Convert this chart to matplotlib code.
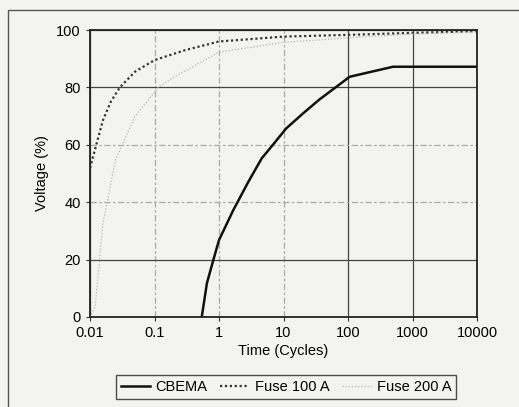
import matplotlib.pyplot as plt
from matplotlib.patches import Rectangle

# Values
cbema_t = [0.54, 0.65, 0.82, 1.0, 1.67, 2.85, 4.6, 6.2, 11.0, 20, 36.6, 66, 106, 500, 10000]
cbema_v = [0, 11.8, 20, 26.8, 37.3, 47.1, 55.3, 58.8, 65.7, 70.9, 75.9, 80.2, 83.7, 87.2, 87.2]

fuse100_t = [0.01, 0.0125, 0.0159, 0.021, 0.029, 0.05, 0.1, 0.3, 1.0, 10, 100, 1000, 10000]
fuse100_v = [51.9, 60, 68.6, 75, 80, 85.5, 89.5, 93, 96, 97.7, 98.3, 99, 99.6]

fuse200_t = [0.01, 0.012, 0.0159, 0.025, 0.05, 0.12, 0.23, 1.0, 10, 170, 1000, 10000]
fuse200_v = [0, 3.5, 32.8, 55, 70, 80.5, 84.3, 92.3, 95.7, 97.6, 98.6, 99.3]

y_ticks = [0, 20, 40, 60, 80, 100]
x_ticks = [0.01, 0.1, 1, 10, 100, 1000, 10000]
x_labels = ["0.01", "0.1", "1", "10", "100", "1000", "10000"]

paper = "#f3f3f1"
plt.rcParams["font.family"] = ["Liberation Sans", "DejaVu Sans"]

fig = plt.figure(figsize=(5.19, 4.07), dpi=100, facecolor=paper)
ax = fig.add_axes([90 / 519, 90 / 407, 387 / 519, 287 / 407], facecolor=paper)

ax.plot(cbema_t, cbema_v, color="#111111", lw=1.8, label="CBEMA")
ax.plot(fuse100_t, fuse100_v, color="#333333", lw=1.6, linestyle=(0, (1, 1.2)), label="Fuse 100 A")
ax.plot(fuse200_t, fuse200_v, color="#b5b5b5", lw=0.9, linestyle=(0, (1, 1.5)), label="Fuse 200 A")

ax.set_xscale("log")
ax.set_xlim(0.01, 10000)
ax.set_ylim(0, 100)
ax.set_xticks(x_ticks)
ax.set_xticklabels(x_labels)
ax.minorticks_off()
ax.set_yticks(y_ticks)
ax.grid(True, color="#444444", lw=0.9)
ax.set_axisbelow(True)

# the scan leaves some gridlines faded and broken
for i in (2, 3):
    g = ax.get_ygridlines()[i]
    g.set_color("#aaaaaa")
    g.set_linestyle((0, (5, 2, 2, 2)))
for i in (1, 2, 3):
    g = ax.get_xgridlines()[i]
    g.set_color("#aaaaaa")
    g.set_linestyle((0, (5, 2, 2, 2)))

for s in ax.spines.values():
    s.set_color("#222222")
    s.set_linewidth(1.3)
ax.tick_params(axis="both", labelsize=10.5, direction="out", length=3, color="#333333")

ax.set_xlabel("Time (Cycles)", fontsize=10.5, labelpad=3)
ax.set_ylabel("Voltage (%)", fontsize=10.5, labelpad=5)

leg = fig.legend(loc="center", bbox_to_anchor=(286 / 519, 1 - 387 / 407), ncol=3,
                 fontsize=10.5, frameon=True, fancybox=False, handlelength=2.0,
                 columnspacing=0.9, handletextpad=0.35, borderpad=0.35)
leg.get_frame().set_edgecolor("#222222")
leg.get_frame().set_facecolor(paper)
leg.get_frame().set_linewidth(1.0)

# outer frame from the original page
fig.add_artist(Rectangle((8 / 519, -0.1), 1.2, 1.1 - 10 / 407, transform=fig.transFigure,
                         fill=False, edgecolor="#555555", lw=1.0))

fig.savefig("out.png", dpi=100, facecolor=paper)
